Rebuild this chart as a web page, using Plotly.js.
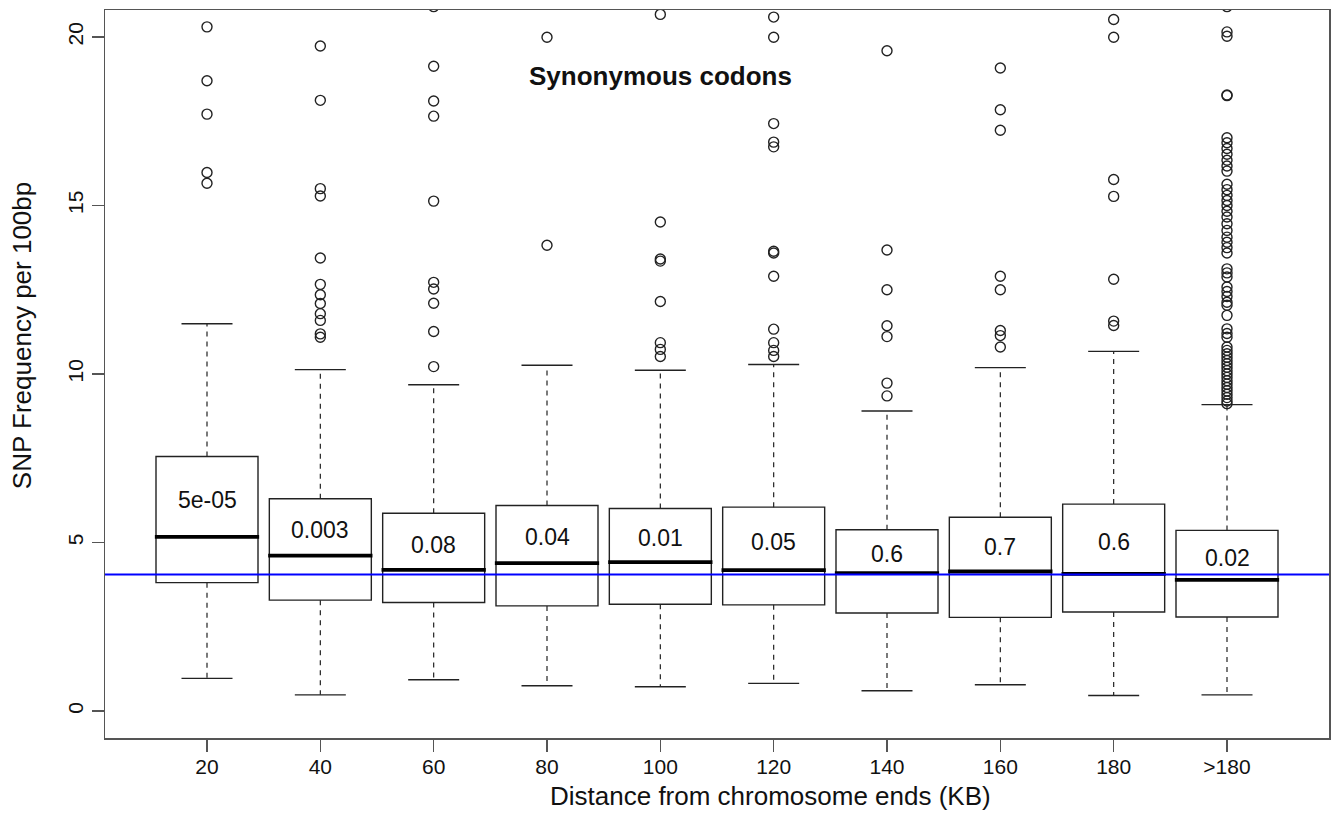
<!DOCTYPE html>
<html>
<head>
<meta charset="utf-8">
<script src="https://cdn.plot.ly/plotly-3.0.1.min.js"></script>
<style>html,body{margin:0;padding:0;background:#fff;}#chart{width:1336px;height:816px;}</style>
</head>
<body>
<div id="chart"></div>
<script>
// ---- data ----
const categories = ['20','40','60','80','100','120','140','160','180','>180'];
const q1 = [3.81, 3.29, 3.22, 3.12, 3.17, 3.15, 2.91, 2.78, 2.94, 2.79];
const medians = [5.17, 4.61, 4.19, 4.39, 4.42, 4.18, 4.09, 4.14, 4.07, 3.89];
const q3 = [7.55, 6.30, 5.87, 6.10, 6.01, 6.05, 5.38, 5.75, 6.14, 5.36];
const lowerWhisker = [0.97, 0.48, 0.93, 0.75, 0.72, 0.82, 0.60, 0.78, 0.46, 0.48];
const upperWhisker = [11.49, 10.13, 9.68, 10.26, 10.11, 10.28, 8.90, 10.19, 10.67, 9.09];
const pValues = ['5e-05','0.003','0.08','0.04','0.01','0.05','0.6','0.7','0.6','0.02'];
const overallMedian = 4.05;

const outliers20 = [20.30, 18.70, 17.71, 15.98, 15.66];
const outliers40 = [19.73, 18.12, 15.50, 15.28, 13.44, 12.66, 12.35, 12.09, 11.79, 11.59, 11.19, 11.09];
const outliers60 = [20.90, 19.13, 18.10, 17.65, 15.13, 12.72, 12.52, 12.10, 11.26, 10.22];
const outliers80 = [19.99, 13.82];
const outliers100 = [20.67, 14.51, 13.41, 13.35, 12.15, 10.93, 10.73, 10.52];
const outliers120 = [20.59, 19.99, 17.43, 16.88, 16.74, 13.64, 13.59, 12.90, 11.33, 10.93, 10.70, 10.52];
const outliers140 = [19.59, 13.68, 12.50, 11.43, 11.11, 9.73, 9.35];
const outliers160 = [19.08, 17.84, 17.23, 12.90, 12.50, 11.29, 11.14, 10.80];
const outliers180 = [20.52, 19.99, 15.77, 15.27, 12.81, 11.57, 11.44];
const outliersOver180 = [20.90, 20.15, 20.02, 18.28, 18.26,
  17.01, 16.86, 16.69, 16.52, 16.34, 16.17, 16.02,
  15.63, 15.47, 15.30, 15.15, 15.00, 14.83, 14.66, 14.46, 14.26, 14.06, 13.91, 13.75, 13.59,
  13.12, 13.00, 12.88, 12.58, 12.45, 12.30, 12.13, 12.04, 11.74, 11.34, 11.20, 11.09,
  10.80, 10.70, 10.60, 10.50, 10.40, 10.30, 10.20, 10.10, 10.00, 9.90, 9.80, 9.70,
  9.60, 9.50, 9.40, 9.30, 9.20, 9.12];
const outlierGroups = [outliers20, outliers40, outliers60, outliers80, outliers100,
  outliers120, outliers140, outliers160, outliers180, outliersOver180];

// ---- build traces ----
const pos = categories.map((c, i) => i + 1);
const boxWidth = 0.9;
const stapleHalf = boxWidth / 4;
const inkColor = '#222';
const fontFam = '"Liberation Sans", Arial, Helvetica, sans-serif';

const boxTrace = {
  type: 'box', x: pos, q1: q1, median: medians, q3: q3,
  lowerfence: q1, upperfence: q3, boxpoints: false,
  width: boxWidth, whiskerwidth: 0,
  line: {color: inkColor, width: 1.4}, fillcolor: 'rgba(0,0,0,0)',
  hoverinfo: 'skip', showlegend: false
};

const wx = [], wy = [], sx = [], sy = [], mx = [], my = [];
pos.forEach((p, i) => {
  wx.push(p, p, null, p, p, null);
  wy.push(q3[i], upperWhisker[i], null, q1[i], lowerWhisker[i], null);
  sx.push(p - stapleHalf, p + stapleHalf, null, p - stapleHalf, p + stapleHalf, null);
  sy.push(upperWhisker[i], upperWhisker[i], null, lowerWhisker[i], lowerWhisker[i], null);
  mx.push(p - boxWidth / 2 - 0.01, p + boxWidth / 2 + 0.01, null);
  my.push(medians[i], medians[i], null);
});
const whiskerTrace = {type: 'scatter', mode: 'lines', x: wx, y: wy,
  line: {color: inkColor, width: 1.2, dash: '5px,5px'}, hoverinfo: 'skip', showlegend: false};
const stapleTrace = {type: 'scatter', mode: 'lines', x: sx, y: sy,
  line: {color: inkColor, width: 1.4}, hoverinfo: 'skip', showlegend: false};
const medianTrace = {type: 'scatter', mode: 'lines', x: mx, y: my,
  line: {color: '#000', width: 3.8}, hoverinfo: 'skip', showlegend: false};

const ox = [], oy = [];
outlierGroups.forEach((g, i) => g.forEach(v => { ox.push(pos[i]); oy.push(v); }));
const outlierTrace = {type: 'scatter', mode: 'markers', x: ox, y: oy,
  marker: {symbol: 'circle-open', size: 10, color: inkColor, line: {width: 1.4, color: inkColor}},
  cliponaxis: true, hoverinfo: 'skip', showlegend: false};

const annotations = pValues.map((t, i) => ({
  x: pos[i], y: (medians[i] + q3[i]) / 2, xref: 'x', yref: 'y', text: t,
  showarrow: false, yshift: -3, font: {family: fontFam, size: 23, color: '#111'}
}));
annotations.push({x: 5, y: 18.85, xref: 'x', yref: 'y', text: '<b>Synonymous codons</b>',
  showarrow: false, font: {family: fontFam, size: 26, color: '#111'}});
annotations.push({x: 0.544, y: 0, xref: 'paper', yref: 'paper', yanchor: 'top', yshift: -41,
  text: 'Distance from chromosome ends (KB)', showarrow: false,
  font: {family: fontFam, size: 26, color: '#111'}});
annotations.push({x: 0, y: 0.552, xref: 'paper', yref: 'paper', xanchor: 'center', xshift: -83,
  textangle: -90, text: 'SNP Frequency per 100bp', showarrow: false,
  font: {family: fontFam, size: 26, color: '#111'}});

const layout = {
  width: 1336, height: 816,
  margin: {l: 105, r: 7, t: 10, b: 78, pad: 0},
  paper_bgcolor: '#fff', plot_bgcolor: '#fff',
  showlegend: false,
  font: {family: fontFam, color: '#111'},
  xaxis: {
    range: [0.1, 10.9], tickvals: pos, ticktext: categories,
    showgrid: false, zeroline: false, showline: true, mirror: true,
    linecolor: '#555', linewidth: 1.5, ticks: 'outside', ticklen: 12, tickwidth: 1.2,
    tickcolor: '#555', ticklabelstandoff: -3, tickfont: {family: fontFam, size: 21, color: '#111'}
  },
  yaxis: {
    range: [-0.8, 20.8], tickvals: [0, 5, 10, 15, 20],
    showgrid: false, zeroline: false, showline: true, mirror: true,
    linecolor: '#555', linewidth: 1.5, ticks: 'outside', ticklen: 12, tickwidth: 1.2,
    tickcolor: '#555', tickangle: -90, tickfont: {family: fontFam, size: 21, color: '#111'}
  },
  shapes: [{type: 'line', xref: 'paper', yref: 'y', x0: 0, x1: 1, y0: overallMedian, y1: overallMedian,
    line: {color: '#0000ff', width: 2}, layer: 'above'}],
  annotations: annotations
};

Plotly.newPlot('chart', [boxTrace, whiskerTrace, stapleTrace, medianTrace, outlierTrace], layout,
  {displayModeBar: false, staticPlot: true});
</script>
</body>
</html>
